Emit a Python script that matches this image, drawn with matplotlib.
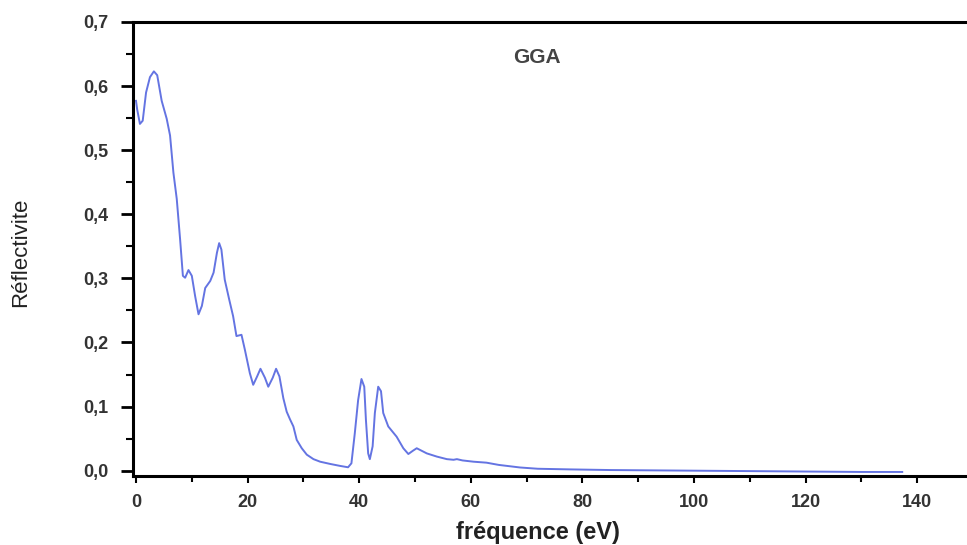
import matplotlib
matplotlib.use("Agg")
import matplotlib.pyplot as plt
from matplotlib.ticker import MultipleLocator

energy_ev = [0.0, 0.2, 0.7, 1.2, 1.8, 2.5, 3.2, 3.8, 4.6, 5.5, 6.1, 6.7, 7.3, 7.9, 8.4, 8.8, 9.4, 10.0,
             10.6, 11.2, 11.8, 12.4, 13.3, 13.9, 14.5, 14.9, 15.3, 15.9, 16.7, 17.4, 18.0, 18.9, 19.5,
             20.4, 21.0, 21.7, 22.3, 23.1, 23.7, 24.5, 25.1, 25.7, 26.4, 27.0, 27.6, 28.2, 28.8, 29.7,
             30.6, 31.8, 33.0, 34.8, 36.6, 38.0, 38.6, 39.2, 39.8, 40.4, 40.9, 41.2, 41.6, 41.9, 42.4,
             42.8, 43.4, 43.9, 44.3, 45.2, 46.7, 47.9, 48.8, 49.6, 50.3, 52.1, 53.9, 55.7, 56.9, 57.5,
             58.5, 60.5, 62.8, 65.0, 68.8, 72.0, 77.8, 85.0, 100.0, 115.0, 130.0, 137.3]
reflectivity = [0.577, 0.564, 0.541, 0.546, 0.590, 0.614, 0.623, 0.617, 0.577, 0.549, 0.523, 0.465,
                0.424, 0.361, 0.304, 0.301, 0.313, 0.304, 0.272, 0.244, 0.257, 0.285, 0.296, 0.309,
                0.340, 0.355, 0.345, 0.298, 0.267, 0.241, 0.210, 0.212, 0.189, 0.152, 0.134, 0.147,
                0.159, 0.145, 0.131, 0.145, 0.159, 0.147, 0.113, 0.092, 0.080, 0.069, 0.048, 0.035,
                0.025, 0.018, 0.014, 0.0105, 0.0074, 0.0053, 0.0115, 0.058, 0.110, 0.143, 0.131, 0.079,
                0.027, 0.018, 0.038, 0.090, 0.131, 0.124, 0.090, 0.069, 0.053, 0.035, 0.026, 0.031,
                0.035, 0.027, 0.022, 0.018, 0.017, 0.018, 0.016, 0.014, 0.0125, 0.009, 0.005, 0.003,
                0.002, 0.001, 0.000, -0.001, -0.002, -0.002]

x_ticks = [0, 20, 40, 60, 80, 100, 120, 140]
x_tick_labels = ["0", "20", "40", "60", "80", "100", "120", "140"]
y_ticks = [0.0, 0.1, 0.2, 0.3, 0.4, 0.5, 0.6, 0.7]
y_tick_labels = ["0,0", "0,1", "0,2", "0,3", "0,4", "0,5", "0,6", "0,7"]

plt.rcParams['font.family'] = ['Liberation Sans', 'DejaVu Sans']

W, H = 967, 545
ax_left, ax_right, ax_top, ax_bottom = 133, 977, 22, 476
ax_w, ax_h = ax_right - ax_left, ax_bottom - ax_top

fig = plt.figure(figsize=(W / 100, H / 100), dpi=100)
ax = fig.add_axes([ax_left / W, (H - ax_bottom) / H, ax_w / W, ax_h / H])

ax.plot(energy_ev, reflectivity, color='#6474e2', lw=1.4, solid_joinstyle='round')

ax.set_xlim(-0.54, 150.7)
ax.set_ylim(-0.0083, 0.7)

ax.set_xticks(x_ticks)
ax.set_xticklabels(x_tick_labels)
ax.set_yticks(y_ticks)
ax.set_yticklabels(y_tick_labels)
ax.xaxis.set_minor_locator(MultipleLocator(10))
ax.yaxis.set_minor_locator(MultipleLocator(0.05))

for side in ['left', 'top', 'bottom']:
    ax.spines[side].set_linewidth(2.2)
ax.spines['right'].set_visible(False)

ax.tick_params(axis='y', which='major', direction='out', length=9, width=2, labelsize=13, pad=9)
ax.tick_params(axis='y', which='minor', direction='out', length=5, width=1.5)
ax.tick_params(axis='x', which='major', direction='out', length=5, width=1.5, labelsize=13, pad=8)
ax.tick_params(axis='x', which='minor', direction='out', length=4, width=1.5)
for lab in ax.get_xticklabels() + ax.get_yticklabels():
    lab.set_fontweight('bold')
    lab.set_color('#333333')

ax.set_xlabel('fréquence (eV)', fontsize=17, fontweight='bold', color='#222222')
ax.xaxis.label.set_va('center')
ax.xaxis.set_label_coords((538 - ax_left) / ax_w, -(532 - ax_bottom) / ax_h)
ax.set_ylabel('Réflectivite', fontsize=16, color='#222222')
ax.yaxis.set_label_coords(-(ax_left - 31) / ax_w, (ax_bottom - 252) / ax_h)

ax.text((537 - ax_left) / ax_w, (ax_bottom - 58) / ax_h, 'GGA', transform=ax.transAxes,
        fontsize=15, fontweight='bold', color='#444444', ha='center', va='center')

fig.savefig('out.png', dpi=100)
